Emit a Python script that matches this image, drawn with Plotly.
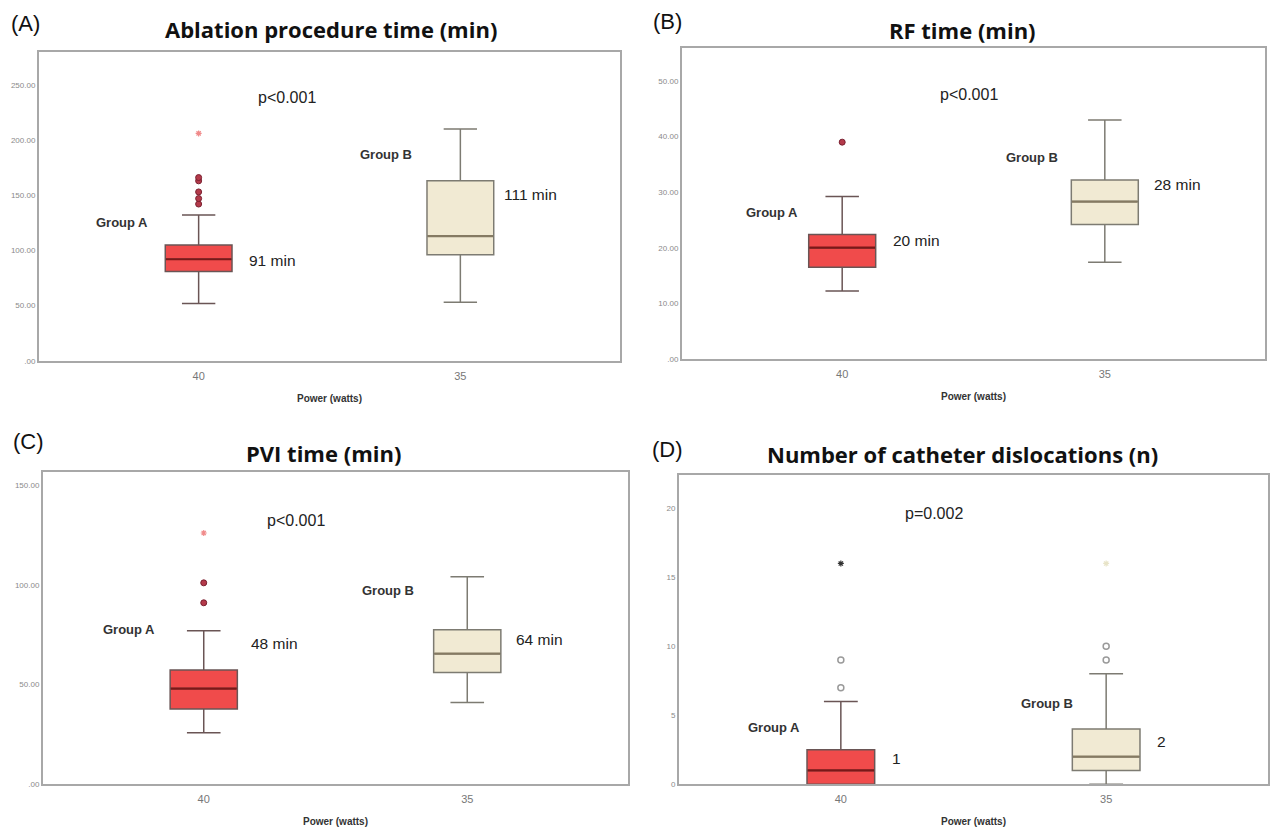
import plotly.graph_objects as go

W, H = 1271, 834

# ---------------- data ----------------
categories = ["40", "35"]
group_names = ["Group A", "Group B"]

panel_titles = ["Ablation procedure time (min)", "RF time (min)",
                "PVI time (min)", "Number of catheter dislocations (n)"]
panel_letters = ["(A)", "(B)", "(C)", "(D)"]
p_values = ["p<0.001", "p<0.001", "p<0.001", "p=0.002"]
median_labels = [["91 min", "111 min"], ["20 min", "28 min"],
                 ["48 min", "64 min"], ["1", "2"]]

# box statistics per panel: [group A, group B], each (lowerfence, q1, median, q3, upperfence)
abl_stats = [(52, 81, 92, 105, 132), (53, 96, 113, 163, 210)]
rf_stats = [(12.2, 16.5, 20, 22.4, 29.2), (17.4, 24.2, 28.3, 32.2, 43)]
pvi_stats = [(25.8, 37.7, 48, 57.3, 77), (41, 56, 65.5, 77.5, 104)]
dis_stats = [(0, 0, 1, 2.5, 6), (0, 1, 2, 4, 8)]

# outliers (circles) and extremes (stars)
abl_out = [[142, 147, 153, 163, 166], []]
abl_ext = [[206], []]
rf_out = [[39], []]
rf_ext = [[], []]
pvi_out = [[91, 101], []]
pvi_ext = [[126], []]
dis_out = [[7, 9], [9, 10]]
dis_ext = [[16], [16]]

y_ticks = [[0, 50, 100, 150, 200, 250], [0, 10, 20, 30, 40, 50],
           [0, 50, 100, 150], [0, 5, 10, 15, 20]]
y_ticktext = [[".00", "50.00", "100.00", "150.00", "200.00", "250.00"],
              [".00", "10.00", "20.00", "30.00", "40.00", "50.00"],
              [".00", "50.00", "100.00", "150.00"],
              ["0", "5", "10", "15", "20"]]
y_max = [280, 56, 156.5, 22.4]

stats_all = [abl_stats, rf_stats, pvi_stats, dis_stats]
out_all = [abl_out, rf_out, pvi_out, dis_out]
ext_all = [abl_ext, rf_ext, pvi_ext, dis_ext]

# ---------------- layout geometry (pixels) ----------------
frames = [(39, 620, 52, 363), (682, 1265, 48, 361),
          (43, 628, 475, 789), (679, 1268, 478, 789)]


def px(x):
    return x / W


def py(y):
    return 1 - y / H


fill_colors = ["#f04b4b", "#f1ead3"]
edge_colors = ["#6a5555", "#7d7b72"]
median_colors = ["#7a1818", "#857a62"]
out_styles = [
    dict(color="#b43a4a", line=dict(color="#7a2030", width=1)),
    dict(color="#b43a4a", line=dict(color="#7a2030", width=1)),
    dict(color="#b43a4a", line=dict(color="#7a2030", width=1)),
    dict(color="rgba(0,0,0,0)", line=dict(color="#9a9a9a", width=1.5)),
]
ext_colors = [["#f08a8a", "#f08a8a"], ["#f08a8a", "#f08a8a"],
              ["#f08a8a", "#f08a8a"], ["#333333", "#e8e4c8"]]

fig = go.Figure()
ann = []

for i in range(4):
    xa = "x" if i == 0 else f"x{i+1}"
    ya = "y" if i == 0 else f"y{i+1}"
    for g in range(2):
        lo, q1, med, q3, hi = stats_all[i][g]
        fig.add_trace(go.Box(
            x=[g], q1=[q1], median=[med], q3=[q3], lowerfence=[lo], upperfence=[hi],
            xaxis=xa, yaxis=ya, width=0.255, whiskerwidth=0.5,
            fillcolor=fill_colors[g], line=dict(color=edge_colors[g], width=1.5),
            boxpoints=False, showlegend=False, hoverinfo="skip"))
        # median line overlay
        fig.add_trace(go.Box(
            x=[g], q1=[med], median=[med], q3=[med], lowerfence=[med], upperfence=[med],
            xaxis=xa, yaxis=ya, width=0.25, whiskerwidth=0,
            fillcolor="rgba(0,0,0,0)", line=dict(color=median_colors[g], width=2.2),
            boxpoints=False, showlegend=False, hoverinfo="skip"))
        if out_all[i][g]:
            fig.add_trace(go.Scatter(
                x=[g] * len(out_all[i][g]), y=out_all[i][g], mode="markers",
                xaxis=xa, yaxis=ya, showlegend=False, hoverinfo="skip",
                marker=dict(symbol="circle", size=6, **out_styles[i])))
        if ext_all[i][g]:
            fig.add_trace(go.Scatter(
                x=[g] * len(ext_all[i][g]), y=ext_all[i][g], mode="markers",
                xaxis=xa, yaxis=ya, showlegend=False, hoverinfo="skip",
                marker=dict(symbol="asterisk", size=5,
                            line=dict(color=ext_colors[i][g], width=1.2))))

    x0, x1, y0, y1 = frames[i]
    axis_common = dict(showline=True, mirror=True, linecolor="#a8a8a8", linewidth=2,
                       showgrid=False, zeroline=False, ticks="")
    fig.layout[f"xaxis{'' if i == 0 else i+1}"] = dict(
        domain=[px(x0), px(x1)], anchor=ya, range=[-0.61, 1.61],
        tickvals=[0, 1], ticktext=categories, ticklabelstandoff=4,
        tickfont=dict(family="Liberation Sans", size=11, color="#777777"),
        title=dict(text="<b>Power (watts)</b>", standoff=14,
                   font=dict(family="Liberation Sans", size=10, color="#333333")),
        **axis_common)
    fig.layout[f"yaxis{'' if i == 0 else i+1}"] = dict(
        domain=[py(y1), py(y0)], anchor=xa, range=[0, y_max[i]],
        tickvals=y_ticks[i], ticktext=y_ticktext[i],
        tickfont=dict(family="Liberation Sans", size=8, color="#8a8a8a"),
        **axis_common)

# ---------------- text annotations (pixel positions) ----------------
letter_pos = [(25, 24), (668, 22), (28, 444), (668, 452)]
title_pos = [(331, 29), (962, 30), (323, 456), (962, 457)]
p_pos = [(287, 98), (969, 95), (296, 524), (934, 517)]
grpA_pos = [(122, 224), (772, 214), (129, 633), (774, 732)]
grpB_pos = [(386, 155), (1032, 158), (388, 594), (1047, 708)]
medA_pos = [(272, 262), (916, 242), (274, 647), (897, 763)]
medB_pos = [(530, 196), (1177, 186), (539, 643), (1161, 746)]


def add_text(txt, pos, size, color="#222222", family="Liberation Sans", bold=False):
    ann.append(dict(text=(f"<b>{txt}</b>" if bold else txt), x=px(pos[0]), y=py(pos[1]),
                    xref="paper", yref="paper", showarrow=False,
                    xanchor="center", yanchor="middle",
                    font=dict(family=family, size=size, color=color)))


for i in range(4):
    add_text(panel_letters[i], letter_pos[i], 22, "#111111")
    add_text(panel_titles[i], title_pos[i], 22, "#111111", family="Open Sans", bold=True)
    add_text(p_values[i], p_pos[i], 16, "#222222")
    add_text(group_names[0], grpA_pos[i], 13, "#333333", bold=True)
    add_text(group_names[1], grpB_pos[i], 13, "#333333", bold=True)
    add_text(median_labels[i][0], medA_pos[i], 15.5, "#222222")
    add_text(median_labels[i][1], medB_pos[i], 15.5, "#222222")

fig.update_layout(width=W, height=H, margin=dict(l=0, r=0, t=0, b=0),
                  paper_bgcolor="white", plot_bgcolor="white",
                  annotations=ann, showlegend=False)

fig.write_html("out.html", config={"displayModeBar": False},
               post_script="document.body.style.margin='0';document.body.style.overflow='hidden';")
